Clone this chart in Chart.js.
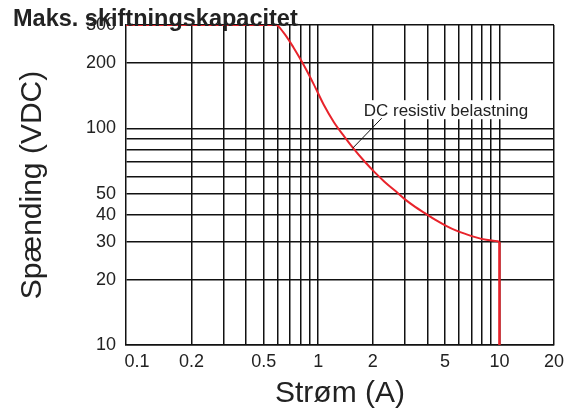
<!DOCTYPE html>
<html>
<head>
<meta charset="utf-8">
<script src="https://cdn.jsdelivr.net/npm/chart.js@4/dist/chart.umd.min.js"></script>
<style>
  html, body { margin: 0; padding: 0; background: #fff; }
  #wrap { width: 572px; height: 416px; }
</style>
</head>
<body>
<div id="wrap"><canvas id="chart" width="572" height="416"></canvas></div>
<script>
// values (current in A, voltage in VDC)
const currentA = [0.087, 0.585, 0.641, 0.729, 0.829, 0.944, 1.073, 1.221, 1.39, 1.58, 1.798, 2.046, 2.328, 2.649, 3.013, 3.428, 3.9, 4.437, 5.048, 5.743, 6.533, 7.433, 8.456, 10]
const voltageV = [300, 300, 278, 237, 197, 160, 128.5, 106.8, 91.9, 80, 70.5, 62.8, 56.6, 51.6, 47, 43.4, 40.5, 37.8, 35.6, 33.8, 32.5, 31.4, 30.6, 30]
// vertical cut-off at 10 A
const cutoffA = [10, 10]
const cutoffV = [30, 10]

const xGrid = [0.1, 0.2, 0.3, 0.4, 0.5, 0.6, 0.7, 0.8, 0.9, 1, 2, 3, 4, 5, 6, 7, 8, 9, 10, 20]
const xLabels = [0.1, 0.2, 0.5, 1, 2, 5, 10, 20]
const yGrid = [10, 20, 30, 40, 50, 60, 70, 80, 90, 100, 200, 300]
const yLabels = [10, 20, 30, 40, 50, 100, 200, 300]

const chartTitle = "Maks. skiftningskapacitet"
const noteText = "DC resistiv belastning"
const noteAt = { x: 1.55, y: 81 } // where the leader touches the curve

const FONT = "'Liberation Sans', Arial, sans-serif"
const RED = "#e8232b"
const INK = "#222"

const toPoints = (xs, ys) => xs.map((x, i) => ({ x: x, y: ys[i] }))

// title + callout label, drawn on top of everything
const labelsPlugin = {
  id: "labels",
  afterDraw(chart) {
    const { ctx, scales } = chart
    const px = scales.x.getPixelForValue(noteAt.x)
    const py = scales.y.getPixelForValue(noteAt.y)
    const lx = px + 29
    const ly = py - 30

    ctx.save()
    ctx.font = "17px " + FONT
    const w = ctx.measureText(noteText).width
    const tx = lx - 18
    const base = ly - 2
    ctx.fillStyle = "#fff"
    ctx.fillRect(tx - 2, base - 16, w + 4, 19)
    ctx.fillStyle = INK
    ctx.textBaseline = "alphabetic"
    ctx.fillText(noteText, tx, base)

    ctx.strokeStyle = "#111"
    ctx.lineWidth = 1
    ctx.beginPath()
    ctx.moveTo(lx, ly)
    ctx.lineTo(px, py)
    ctx.stroke()

    ctx.font = "bold 23.5px " + FONT
    ctx.fillStyle = INK
    ctx.fillText(chartTitle, 13, 26)
    ctx.restore()
  }
}

new Chart(document.getElementById("chart"), {
  type: "line",
  data: {
    datasets: [
      {
        data: toPoints(currentA, voltageV),
        borderColor: RED,
        borderWidth: 2,
        pointRadius: 0,
        cubicInterpolationMode: "monotone"
      },
      {
        data: toPoints(cutoffA, cutoffV),
        borderColor: RED,
        borderWidth: 2.5,
        pointRadius: 0
      }
    ]
  },
  options: {
    responsive: false,
    animation: false,
    layout: { padding: { top: 25, right: 18, bottom: 0, left: 0 } },
    plugins: {
      legend: { display: false },
      tooltip: { enabled: false }
    },
    scales: {
      x: {
        type: "logarithmic",
        min: 0.087,
        max: 20,
        afterBuildTicks: (s) => { s.ticks = xGrid.map(v => ({ value: v })) },
        afterFit: (s) => { s.height = 71 },
        border: { color: "#111", width: 1.5 },
        grid: {
          drawTicks: false,
          lineWidth: 1.5,
          color: (c) => (c.tick && c.tick.value === 0.1 ? "rgba(0,0,0,0)" : "#111")
        },
        ticks: {
          autoSkip: false,
          maxRotation: 0,
          padding: 6,
          color: INK,
          font: { family: FONT, size: 18 },
          callback: (v) => (xLabels.includes(v) ? String(v) : "")
        },
        title: {
          display: true,
          text: "Strøm (A)",
          color: INK,
          font: { family: FONT, size: 30 },
          padding: { top: 0, bottom: 4 }
        }
      },
      y: {
        type: "logarithmic",
        min: 10,
        max: 300,
        afterBuildTicks: (s) => { s.ticks = yGrid.map(v => ({ value: v })) },
        afterFit: (s) => { s.width = 126 },
        border: { color: "#111", width: 1.5 },
        grid: { drawTicks: false, lineWidth: 1.5, color: "#111" },
        ticks: {
          autoSkip: false,
          padding: 10,
          color: INK,
          font: { family: FONT, size: 18 },
          callback: (v) => (yLabels.includes(v) ? String(v) : "")
        },
        title: {
          display: true,
          text: "Spænding (VDC)",
          color: INK,
          font: { family: FONT, size: 30 },
          padding: { top: 15, bottom: 0 }
        }
      }
    }
  },
  plugins: [labelsPlugin]
})
</script>
</body>
</html>
